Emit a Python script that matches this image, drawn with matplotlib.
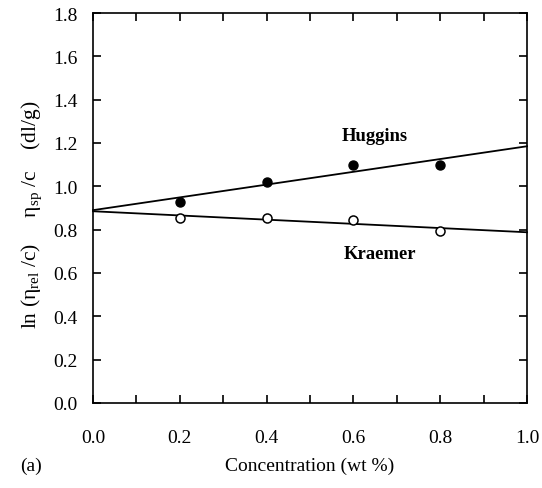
import numpy as np
import matplotlib
matplotlib.use("Agg")
import matplotlib.pyplot as plt

plt.rcParams['font.family'] = ['Liberation Serif', 'DejaVu Serif']
plt.rcParams['mathtext.fontset'] = 'stix'

# data
conc = [0.2, 0.4, 0.6, 0.8]
huggins = [0.93, 1.02, 1.10, 1.10]
kraemer = [0.853, 0.856, 0.845, 0.792]

fig = plt.figure(figsize=(5.42, 4.89), dpi=100)
ax = fig.add_axes([93 / 542, 85 / 489, 434 / 542, 390 / 489])

# least-squares lines through each set
xs = np.array([0.0, 1.0])
for vals in (huggins, kraemer):
    k, b = np.polyfit(conc, vals, 1)
    ax.plot(xs, k * xs + b, color='black', lw=1.3, zorder=2, clip_on=False)

ax.plot(conc, huggins, 'o', ms=6.5, mfc='black', mec='black', zorder=3)
ax.plot(conc, kraemer, 'o', ms=6.5, mfc='white', mec='black', mew=1.1, zorder=3)

ax.text(0.649, 1.235, 'Huggins', fontsize=13.4, fontweight='bold', ha='center', va='center')
ax.text(0.661, 0.688, 'Kraemer', fontsize=13.4, fontweight='bold', ha='center', va='center')

ax.set_xlim(0, 1.0)
ax.set_ylim(0, 1.8)
ax.set_xticks(np.arange(0, 1.01, 0.2))
ax.set_xticks(np.arange(0.1, 1.0, 0.2), minor=True)
ax.set_yticks(np.arange(0, 1.81, 0.2))
ax.xaxis.set_major_formatter(matplotlib.ticker.FormatStrFormatter('%.1f'))
ax.yaxis.set_major_formatter(matplotlib.ticker.FormatStrFormatter('%.1f'))
ax.tick_params(which='both', direction='in', length=6, width=1.2,
               right=True, top=True, labelsize=14)
ax.tick_params(axis='x', which='both', pad=18.5)
ax.tick_params(axis='y', pad=11)
for s in ax.spines.values():
    s.set_linewidth(1.2)

ax.set_xlabel('Concentration (wt %)', fontsize=14, labelpad=8)
ylab = (r'ln ($\mathregular{\eta_{rel}}$ /c)     '
        r'$\mathregular{\eta_{sp}}$ /c    (dl/g)')
ax.set_ylabel(ylab, fontsize=15.5, labelpad=6)
ax.yaxis.set_label_coords(-49 / 434, 0.485)
fig.text(20 / 542, 1 - 466 / 489, '(a)', fontsize=14, ha='left', va='center')

fig.savefig('out.png', dpi=100)
